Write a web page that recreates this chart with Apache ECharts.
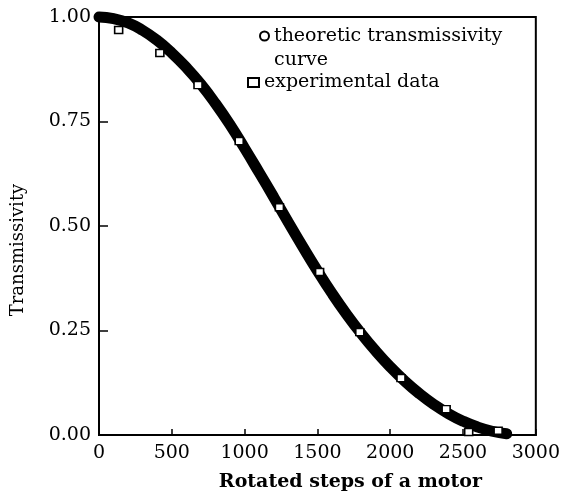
<!DOCTYPE html>
<html>
<head>
<meta charset="utf-8">
<script src="https://cdn.jsdelivr.net/npm/echarts@6/dist/echarts.min.js"></script>
<style>
  html, body { margin: 0; padding: 0; background: #fff; }
  #chart { width: 563px; height: 497px; }
</style>
</head>
<body>
<div id="chart"></div>
<script>
// theoretic curve
const curveSteps = [0, 100, 200, 300, 400, 500, 600, 700, 800, 900, 1000, 1100, 1200, 1300, 1400,
  1500, 1600, 1700, 1800, 1900, 2000, 2100, 2200, 2300, 2400, 2500, 2600, 2700, 2800]
const curveValues = [1.0, 0.996, 0.986, 0.968, 0.944, 0.914, 0.879, 0.839, 0.793, 0.742, 0.686, 0.628, 0.569, 0.509, 0.45,
  0.393, 0.339, 0.289, 0.243, 0.201, 0.163, 0.129, 0.099, 0.073, 0.051, 0.033, 0.019, 0.009, 0.003]

// experimental squares
const expSteps = [135, 418, 680, 963, 1239, 1515, 1791, 2074, 2384, 2539, 2741]
const expValues = [0.969, 0.914, 0.837, 0.703, 0.545, 0.39, 0.246, 0.136, 0.062, 0.007, 0.01]

const yTicks = [0, 0.25, 0.5, 0.75, 1.0]

const serif = 'DejaVu Serif'
const chart = echarts.init(document.getElementById('chart'))

const option = {
  animation: false,
  backgroundColor: '#fff',
  grid: {
    left: 99,
    right: 20,
    top: 17,
    bottom: 62,
    show: true,
    borderColor: '#000',
    borderWidth: 2
  },
  legend: [
    {
      orient: 'vertical',
      left: 259,
      top: 0,
      padding: 0,
      itemWidth: 9,
      itemHeight: 9,
      selectedMode: false,
      data: [{
        name: 'theoretic transmissivity\ncurve',
        icon: 'circle',
        itemStyle: { color: '#fff', borderColor: '#000', borderWidth: 2 }
      }],
      // blank first line so the icon sits on the first text line
      formatter: name => ' \n' + name,
      textStyle: {
        fontFamily: serif,
        fontSize: 19,
        color: '#000',
        lineHeight: 24
      }
    },
    {
      orient: 'vertical',
      left: 247,
      top: 73,
      padding: 0,
      itemWidth: 11,
      itemHeight: 9,
      selectedMode: false,
      data: [{
        name: 'experimental data',
        icon: 'rect',
        itemStyle: { color: '#fff', borderColor: '#000', borderWidth: 2 }
      }],
      textStyle: {
        fontFamily: serif,
        fontSize: 19,
        color: '#000'
      }
    }
  ],
  xAxis: {
    type: 'value',
    min: 0,
    max: 3000,
    interval: 500,
    name: 'Rotated steps of a motor',
    nameLocation: 'middle',
    nameGap: 38,
    nameTextStyle: {
      fontFamily: serif,
      fontSize: 19,
      fontWeight: 'bold',
      color: '#000',
      padding: [0, 0, 0, 66]
    },
    axisLine: { lineStyle: { color: '#000', width: 2 } },
    axisTick: { inside: true, length: 6, lineStyle: { color: '#000', width: 1.5 } },
    axisLabel: {
      fontFamily: serif,
      fontSize: 19,
      color: '#000',
      margin: 9,
      formatter: v => String(v)
    },
    splitLine: { show: false }
  },
  yAxis: {
    type: 'value',
    min: 0,
    max: 1,
    interval: 0.25,
    name: 'Transmissivity',
    nameLocation: 'middle',
    nameGap: 72,
    nameTextStyle: {
      fontFamily: serif,
      fontSize: 18,
      color: '#000',
      padding: [0, 48, 0, 0]
    },
    axisLine: { lineStyle: { color: '#000', width: 2 } },
    axisTick: { inside: true, length: 9, lineStyle: { color: '#000', width: 1.5 } },
    axisLabel: {
      fontFamily: serif,
      fontSize: 19,
      color: '#000',
      margin: 8,
      formatter: v => yTicks.includes(v) ? v.toFixed(2) : ''
    },
    splitLine: { show: false }
  },
  series: [
    {
      name: 'theoretic transmissivity\ncurve',
      type: 'line',
      data: curveSteps.map((s, i) => [s, curveValues[i]]),
      smooth: true,
      showSymbol: false,
      symbol: 'none',
      clip: false,
      lineStyle: { color: '#000', width: 11, cap: 'round' },
      itemStyle: { color: '#000' },
      z: 2
    },
    {
      name: 'experimental data',
      type: 'scatter',
      data: expSteps.map((s, i) => [s, expValues[i]]),
      symbol: 'rect',
      symbolSize: [8, 7],
      clip: false,
      itemStyle: { color: '#fff', borderColor: '#000', borderWidth: 1.5, opacity: 1 },
      z: 3
    }
  ]
}

chart.setOption(option)
</script>
</body>
</html>
